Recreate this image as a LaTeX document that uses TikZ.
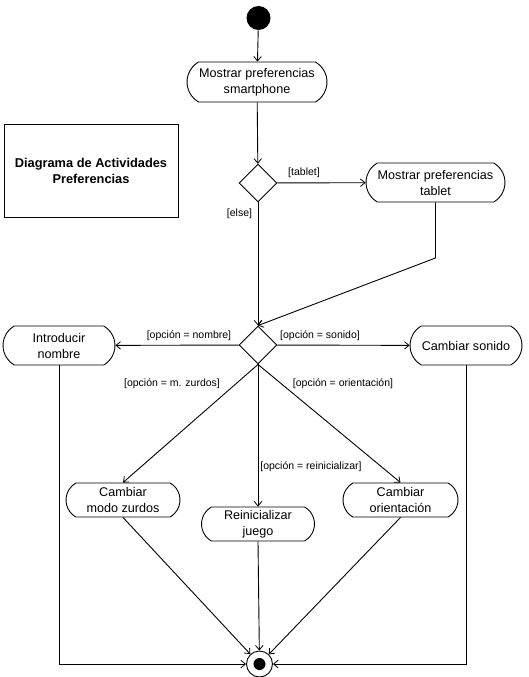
\documentclass[tikz,border=0pt]{standalone}
\usepackage{fontspec}
\setmainfont{Liberation Sans}
\usetikzlibrary{shapes.misc,shapes.geometric,arrows.meta}
\begin{document}
\begin{tikzpicture}[x=1pt,y=-1pt,
  line width=0.9pt,
  flow/.style={-{Straight Barb[length=4.5pt,width=7.5pt,line width=0.8pt]}},
  activity/.style={draw,rounded rectangle,rounded rectangle arc length=120,
    inner sep=0pt,align=center,font=\fontsize{12.6}{16}\selectfont},
  choice/.style={draw,diamond,inner sep=0pt,minimum width=38pt,minimum height=38pt},
  guard/.style={font=\fontsize{10.5}{12}\selectfont,inner sep=1pt}]
\useasboundingbox (0,0) rectangle (528,677);

% title box
\node[draw,minimum width=174pt,minimum height=93pt,align=center,
  font=\fontsize{12.8}{16}\selectfont\bfseries] (title) at (91,171)
  {Diagrama de Actividades\\Preferencias};

% initial and final states
\node[fill=black,circle,inner sep=0pt,minimum size=24pt] (start) at (258.5,18) {};
\node[draw,circle,inner sep=0pt,minimum size=26pt] (stop) at (259.5,664) {};
\node[fill=black,circle,inner sep=0pt,minimum size=12pt] (stopdot) at (259.5,664) {};

% activities
\node[activity,minimum width=140pt,minimum height=40pt] (smart) at (257,82)
  {Mostrar preferencias\\smartphone};
\node[activity,minimum width=139pt,minimum height=39pt] (tablet) at (435.5,182.5)
  {Mostrar preferencias\\tablet};
\node[activity,minimum width=112pt,minimum height=39pt] (nombre) at (59,345.5)
  {Introducir\\nombre};
\node[activity,minimum width=112pt,minimum height=39pt] (sonido) at (466,345.5)
  {Cambiar sonido};
\node[activity,minimum width=114pt,minimum height=34pt] (zurdos) at (123,500)
  {Cambiar\\modo zurdos};
\node[activity,minimum width=115pt,minimum height=34pt] (orient) at (400.5,500)
  {Cambiar\\orientación};
\node[activity,minimum width=113pt,minimum height=34pt] (reinic) at (258,524)
  {Reinicializar\\juego};

% decisions
\node[choice] (d1) at (258,183) {};
\node[choice] (d2) at (258,345) {};

% flows
\draw[flow] (start) -- (smart);
\draw[flow] (smart) -- (d1);
\draw[flow] (d1) -- (tablet);
\draw[flow] (d1) -- (d2);
\coordinate (bend) at (435.5,258);
\draw[flow] (tablet.south) -- (bend) -- (d2.north);
\draw[flow] (d2) -- (nombre);
\draw[flow] (d2) -- (sonido);
\draw[flow] (d2.south) -- (zurdos.north);
\draw[flow] (d2.south) -- (orient.north);
\draw[flow] (d2.south) -- (reinic.north);
\draw[flow] (zurdos.south) -- (stop);
\draw[flow] (orient.south) -- (stop);
\draw[flow] (reinic.south) -- (stop);
\draw[flow] (nombre.south) |- (stop.west);
\draw[flow] (sonido.south) |- (stop.east);

% guards
\node[guard] (gtablet) at (304,173) {[tablet]};
\node[guard] (gelse) at (239.5,214) {[else]};
\node[guard] (gnombre) at (189,336) {[opción = nombre]};
\node[guard] (gsonido) at (320,336) {[opción = sonido]};
\node[guard] (gzurdos) at (172,384) {[opción = m. zurdos]};
\node[guard] (gorient) at (343,384) {[opción = orientación]};
\node[guard] (greinic) at (311,467) {[opción = reinicializar]};
\end{tikzpicture}
\end{document}
